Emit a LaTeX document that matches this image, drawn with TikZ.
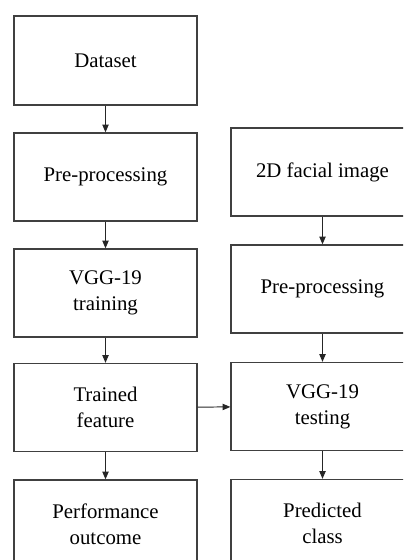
\documentclass[tikz,border=0pt]{standalone}
\usepackage{fontspec}
\setmainfont{Liberation Serif}
\newfontfamily\boxfont{Liberation Serif}
\usetikzlibrary{arrows.meta}

\begin{document}
\begin{tikzpicture}[x=0.025cm, y=-0.025cm,
	block/.style={rectangle, draw=black!75, line width=0.9pt, align=center,
		minimum width=4.575cm, minimum height=2.2cm, inner sep=0pt,
		font=\boxfont\fontsize{14.8}{18.4}\selectfont},
	flow/.style={-{Triangle[length=5.5pt, width=4.5pt]}, line width=0.7pt, black!85}]
	\useasboundingbox (0, 0) rectangle (403, 560);
	\clip (0, 0) rectangle (403, 560);

	% training side
	\node[block, minimum height=2.225cm] (dataset) at (105.5, 60.5) {Dataset};
	\node[block] (prep-train) at (105.5, 177) {Pre-processing};
	\node[block] (vgg-train) at (105.5, 293) {VGG-19\\training};
	\node[block] (trained) at (105.5, 407.5) {Trained\\feature};
	\node[block] (outcome) at (105.5, 524) {Performance\\outcome};

	\draw[flow] (dataset) -- (prep-train);
	\draw[flow] (prep-train) -- (vgg-train);
	\draw[flow] (vgg-train) -- (trained);
	\draw[flow] (trained) -- (outcome);

	% testing side
	\node[block] (face) at (322.5, 172) {2D facial image};
	\node[block] (prep-test) at (322.5, 289) {Pre-processing};
	\node[block] (vgg-test) at (322.5, 406.5) {VGG-19\\testing};
	\node[block] (predicted) at (322.5, 523.5) {Predicted\\class};

	\draw[flow] (face) -- (prep-test);
	\draw[flow] (prep-test) -- (vgg-test);
	\draw[flow] (vgg-test) -- (predicted);

	\draw[flow] (trained) -- (vgg-test);
\end{tikzpicture}
\end{document}
